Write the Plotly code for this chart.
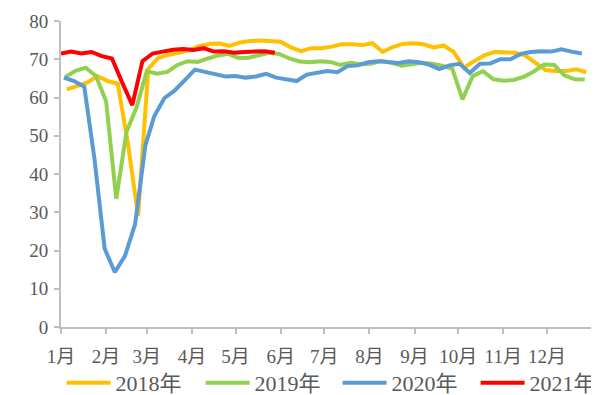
import pandas as pd
import plotly.graph_objects as go

# Weekly values (Fridays)
y2018 = [62.1, 63.0, 63.9, 65.6, 64.3, 63.6, 48.0, 29.0, 67.5, 70.4,
         71.2, 71.7, 72.4, 73.4, 74.0, 74.1, 73.5, 74.4, 74.8, 74.9,
         74.8, 74.6, 73.1, 72.1, 72.9, 72.9, 73.3, 73.9, 73.9, 73.7,
         74.2, 71.9, 73.2, 74.0, 74.2, 73.9, 73.1, 73.6, 71.9, 67.8,
         69.5, 71.0, 71.9, 71.8, 71.7, 71.0, 69.2, 67.2, 66.9, 66.9,
         67.4, 66.6]
y2019 = [65.4, 67.0, 67.8, 65.6, 59.0, 33.5, 51.0, 57.5, 66.9, 66.2,
         66.7, 68.5, 69.5, 69.3, 70.2, 71.0, 71.4, 70.3, 70.4, 71.0,
         71.7, 71.4, 70.2, 69.4, 69.2, 69.5, 69.3, 68.5, 69.1, 68.7,
         68.8, 69.6, 69.1, 68.3, 68.7, 69.1, 68.8, 68.3, 67.5, 59.5,
         65.6, 66.9, 64.8, 64.4, 64.6, 65.4, 66.8, 68.6, 68.5, 65.8,
         64.8, 64.7]
y2020 = [65.2, 64.3, 62.8, 44.0, 20.5, 14.3, 18.6, 27.0, 47.5, 55.0,
         59.8, 61.8, 64.5, 67.3, 66.7, 66.0, 65.5, 65.6, 65.2, 65.5,
         66.2, 65.2, 64.7, 64.3, 66.0, 66.5, 66.9, 66.6, 68.2, 68.4,
         69.2, 69.5, 69.2, 69.0, 69.5, 69.2, 68.6, 67.4, 68.4, 68.8,
         66.4, 68.8, 68.9, 70.0, 70.0, 71.4, 71.9, 72.1, 72.0, 72.6,
         72.0, 71.5]
y2021 = [71.5, 72.0, 71.5, 71.9, 70.8, 70.2, 64.0, 58.0, 69.5, 71.5,
         72.0, 72.5, 72.7, 72.4, 72.9, 72.0, 72.1, 71.7, 71.9, 72.0,
         72.1, 71.7]

series_names = ["2018年", "2019年", "2020年", "2021年"]
first_dates = ["2018-01-05", "2019-01-04", "2020-01-03", "2021-01-01"]
series_values = [y2018, y2019, y2020, y2021]
colors = ["#FFC000", "#92D050", "#5B9BD5", "#FF0000"]

month_labels = ["1月", "2月", "3月", "4月", "5月", "6月", "7月", "8月",
                "9月", "10月", "11月", "12月", ""]
month_days = [31, 28, 31, 30, 31, 30, 31, 31, 30, 31, 30, 31]
month_starts = [sum(month_days[:i]) for i in range(13)]

FONT = "Liberation Serif, Noto Sans CJK SC, serif"
TXT = "#595959"
GRID = "#BFBFBF"

legend_ids = ["legend", "legend2", "legend3", "legend4"]
legend_x = [0.0907, 0.3259, 0.5577, 0.7912]

fig = go.Figure()
for name, start, vals, col, lid in zip(series_names, first_dates, series_values,
                                       colors, legend_ids):
    d = pd.date_range(start, periods=len(vals), freq="7D")
    x = [(di - pd.Timestamp(year=di.year, month=1, day=1)).days
         - (1 if (di.is_leap_year and di.month > 2) else 0) for di in d]
    fig.add_trace(go.Scatter(x=x, y=vals, mode="lines", name=name, legend=lid,
                             line=dict(color=col, width=4)))

# the page places the figure 8px from the top-left corner
fig.update_layout(
    width=591, height=387,
    margin=dict(l=53, r=7, t=13, b=68, autoexpand=False),
    paper_bgcolor="white", plot_bgcolor="white",
    font=dict(family=FONT, size=19, color=TXT),
    showlegend=True,
)
for lid, lx in zip(legend_ids, legend_x):
    fig.update_layout({lid: dict(
        orientation="h", xref="container", x=lx, xanchor="left",
        yref="container", y=0.031, yanchor="middle",
        font=dict(family=FONT, size=22, color=TXT),
        itemwidth=44, bgcolor="rgba(0,0,0,0)")})

fig.update_xaxes(range=[0, 365], tickmode="array", tickvals=month_starts,
                 ticktext=month_labels, showgrid=False, zeroline=False,
                 showline=True, linecolor=GRID, linewidth=2,
                 ticks="outside", ticklen=5, tickcolor=GRID, tickwidth=2,
                 ticklabelstandoff=6)
fig.update_yaxes(range=[0, 80], dtick=10, showgrid=False, zeroline=False,
                 showline=True, linecolor=GRID, linewidth=2, mirror="ticks",
                 ticks="outside", ticklen=5, tickcolor=GRID, tickwidth=2,
                 ticklabelstandoff=2)

fig.write_html("out.html")
